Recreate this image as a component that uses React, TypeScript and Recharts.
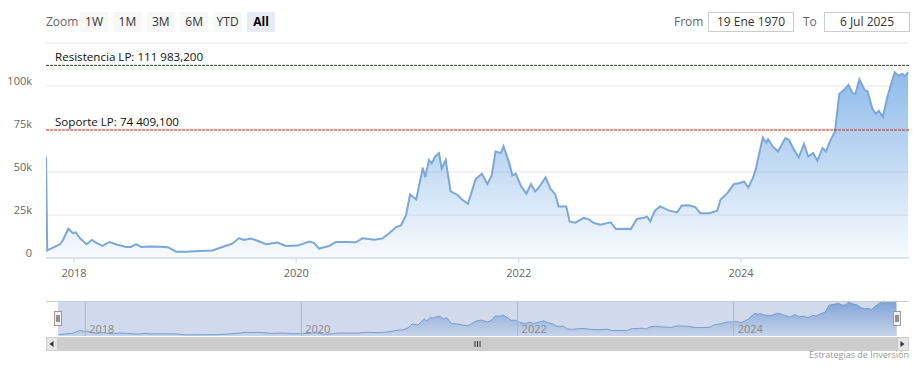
import React from "react";
import { AreaChart, Area, XAxis, YAxis, CartesianGrid, ReferenceLine, ReferenceArea } from "recharts";

const FONT = '"Open Sans", "Noto Sans", sans-serif';

const dates = [
  "2017-10-01", "2017-10-05", "2017-10-24", "2017-11-16", "2017-11-26", "2017-12-13", "2017-12-29",
  "2018-01-06", "2018-01-20", "2018-02-11", "2018-03-01", "2018-03-14", "2018-04-05", "2018-04-27",
  "2018-05-24", "2018-06-21", "2018-07-07", "2018-07-24", "2018-08-10", "2018-09-06", "2018-10-10",
  "2018-11-05", "2018-12-03", "2019-01-05", "2019-02-18", "2019-04-01", "2019-05-03", "2019-06-05",
  "2019-06-27", "2019-07-13", "2019-08-05", "2019-08-27", "2019-09-24", "2019-11-01", "2019-11-28",
  "2020-01-06", "2020-02-13", "2020-02-29", "2020-03-16", "2020-04-18", "2020-05-10", "2020-06-12",
  "2020-07-15", "2020-08-06", "2020-09-14", "2020-10-11", "2020-11-02", "2020-11-24", "2020-12-10",
  "2020-12-27", "2021-01-09", "2021-01-29", "2021-02-20", "2021-02-28", "2021-03-12", "2021-03-21",
  "2021-04-01", "2021-04-14", "2021-04-23", "2021-05-06", "2021-05-22", "2021-06-13", "2021-06-29",
  "2021-07-18", "2021-08-13", "2021-09-02", "2021-09-20", "2021-10-04", "2021-10-17", "2021-11-03",
  "2021-11-12", "2021-12-01", "2021-12-11", "2021-12-22", "2022-01-08", "2022-01-26", "2022-02-10",
  "2022-02-24", "2022-03-08", "2022-03-30", "2022-04-15", "2022-05-01", "2022-05-12", "2022-06-06",
  "2022-06-17", "2022-07-06", "2022-08-03", "2022-08-19", "2022-09-05", "2022-09-27", "2022-10-30",
  "2022-11-16", "2022-12-18", "2023-01-04", "2023-01-24", "2023-02-11", "2023-02-27", "2023-03-09",
  "2023-03-25", "2023-04-11", "2023-05-08", "2023-06-05", "2023-06-21", "2023-07-13", "2023-08-04",
  "2023-08-21", "2023-09-18", "2023-10-15", "2023-10-26", "2023-11-17", "2023-12-09", "2023-12-25",
  "2024-01-11", "2024-01-25", "2024-02-08", "2024-02-19", "2024-02-29", "2024-03-13", "2024-03-24",
  "2024-03-30", "2024-04-15", "2024-05-02", "2024-05-26", "2024-06-07", "2024-06-23", "2024-07-09",
  "2024-07-26", "2024-08-09", "2024-08-25", "2024-09-08", "2024-09-25", "2024-10-06", "2024-10-22",
  "2024-11-05", "2024-11-19", "2024-12-05", "2024-12-19", "2025-01-02", "2025-01-11", "2025-01-24",
  "2025-02-10", "2025-02-20", "2025-03-07", "2025-03-18", "2025-03-29", "2025-04-11", "2025-04-25",
  "2025-05-06", "2025-05-20", "2025-06-01", "2025-06-14", "2025-06-23", "2025-07-03",
];

const prices = [
  58900, 4400, 6000, 8000, 10500, 17000, 14300,
  15000, 11600, 8000, 10500, 9000, 7000, 9300,
  7700, 6400, 6400, 8100, 6400, 6700, 6500,
  6300, 3700, 3700, 4000, 4400, 6400, 8300,
  11600, 10500, 11300, 10000, 8000, 9000, 7000,
  7200, 9500, 8700, 5500, 7000, 9300, 9300,
  9100, 11500, 10600, 11400, 14500, 18000, 19000,
  25000, 37000, 34000, 52500, 47000, 57000, 55000,
  59000, 61000, 52000, 57000, 38700, 36800, 34000,
  31500, 46000, 49000, 43000, 48000, 62000, 61000,
  65000, 55000, 48000, 49000, 42000, 37400, 43000,
  38700, 41000, 46900, 40300, 37000, 30000, 30000,
  21300, 20500, 23300, 22500, 20300, 19400, 20700,
  16800, 17000, 16800, 22700, 23200, 24000, 21300,
  27700, 30000, 27700, 26500, 30500, 30700, 29600,
  26000, 26000, 27500, 34000, 37700, 43000, 43500,
  44500, 41000, 46000, 51800, 60000, 70000, 67000,
  69000, 64700, 62000, 69700, 68600, 63000, 58500,
  66300, 59000, 61000, 56600, 64000, 62000, 68800,
  73600, 95400, 97800, 100700, 95800, 95500, 103900,
  97800, 96800, 87200, 83900, 85600, 81900, 93000,
  99700, 108000, 106000, 107000, 105700, 108000,
];

const rangeStart = "2017-10-01";
const rangeEnd = "2025-07-06";
const yearTicks = ["2018-01-01", "2020-01-01", "2022-01-01", "2024-01-01"];
const priceTicks = [0, 25000, 50000, 75000, 100000, 125000];
const zoomButtons = ["1W", "1M", "3M", "6M", "YTD", "All"];
const fromLabel = "19 Ene 1970";
const toLabel = "6 Jul 2025";
const levelNames = ["Resistencia LP: 111 983,200", "Soporte LP: 74 409,100"];
const levelValues = [111983.2, 74409.1];
const levelColors = ["#2f3f2f", "#c0392b"];

const data = dates.map((d, i) => ({ t: Date.parse(d), price: prices[i] }));
const navData = data.slice(1);
const domainX: [number, number] = [Date.parse(rangeStart), Date.parse(rangeEnd)];
const tickX = yearTicks.map((d) => Date.parse(d));

const YTick = (props: any) => {
  const { x, y, payload } = props;
  if (payload.value === 125000) return <g />;
  const txt = payload.value === 0 ? "0" : payload.value / 1000 + "k";
  return (
    <text x={x} y={y - 1.5} textAnchor="end" fill="#666" fontSize={11} fontFamily={FONT}>
      {txt}
    </text>
  );
};

function MainChart() {
  return (
    <AreaChart width={919} height={290} data={data} margin={{ top: 43, right: 10, left: 6, bottom: 2 }}>
      <defs>
        <linearGradient id="mainFill" x1="0" y1="0" x2="0" y2="1">
          <stop offset="0%" stopColor="#85b5e8" stopOpacity={0.92} />
          <stop offset="100%" stopColor="#85b5e8" stopOpacity={0.06} />
        </linearGradient>
      </defs>
      <CartesianGrid vertical={false} stroke="#e6e6e6" />
      <XAxis
        dataKey="t"
        type="number"
        scale="time"
        domain={domainX}
        ticks={tickX}
        allowDataOverflow
        tickFormatter={(v) => String(new Date(v).getUTCFullYear())}
        height={30}
        tickSize={5}
        tickMargin={6}
        stroke="#ccd6eb"
        tick={{ fill: "#666", fontSize: 11, fontFamily: FONT }}
      />
      <YAxis
        width={40}
        domain={[0, 125000]}
        ticks={priceTicks}
        axisLine={false}
        tickLine={false}
        tickMargin={8}
        tick={<YTick />}
      />
      <Area
        type="linear"
        dataKey="price"
        stroke="#7ca8d9"
        strokeWidth={2}
        fill="url(#mainFill)"
        fillOpacity={1}
        dot={false}
        activeDot={false}
        isAnimationActive={false}
      />
      {levelValues.map((v, i) => (
        <ReferenceLine
          key={i}
          y={v}
          stroke={levelColors[i]}
          strokeDasharray="3 1"
          label={(p: any) => (
            <text x={p.viewBox.x + 9} y={p.viewBox.y - 4} fill="#111" fontSize={11.6} fontFamily={FONT}>
              {levelNames[i]}
            </text>
          )}
        />
      ))}
    </AreaChart>
  );
}

function Navigator() {
  return (
    <AreaChart width={919} height={50} data={navData} margin={{ top: 11, right: 22, left: 58, bottom: 4 }}>
      <defs>
        <linearGradient id="navFill" x1="0" y1="0" x2="0" y2="1">
          <stop offset="0%" stopColor="#7ca8d9" stopOpacity={0.9} />
          <stop offset="100%" stopColor="#7ca8d9" stopOpacity={0.1} />
        </linearGradient>
      </defs>
      <XAxis dataKey="t" type="number" scale="time" domain={domainX} hide allowDataOverflow />
      <YAxis domain={[0, "dataMax"]} hide />
      {tickX.map((t, i) => (
        <ReferenceLine
          key={t}
          x={t}
          stroke="#b4b4b4"
          label={(p: any) => (
            <text x={p.viewBox.x + 4} y={p.viewBox.y + p.viewBox.height - 3} fill="#8a8a8a" fontSize={11} fontFamily={FONT}>
              {yearTicks[i].slice(0, 4)}
            </text>
          )}
        />
      ))}
      <Area
        type="linear"
        dataKey="price"
        stroke="#7ca8d9"
        strokeWidth={1}
        fill="url(#navFill)"
        fillOpacity={1}
        dot={false}
        activeDot={false}
        isAnimationActive={false}
      />
      <ReferenceArea x1={domainX[0]} x2={domainX[1]} fill="#6685c2" fillOpacity={0.3} stroke="none" />
    </AreaChart>
  );
}

function Chrome() {
  return (
    <svg width={919} height={368} style={{ position: "absolute", left: 0, top: 0, pointerEvents: "none" }}>
      <g fontFamily={FONT} fontSize={12}>
        <text x={46} y={26} fill="#666">Zoom</text>
        {zoomButtons.map((b, i) => {
          const sel = b === "All";
          const bx = 80 + i * 33.4;
          return (
            <g key={b}>
              <rect x={bx} y={12} width={28} height={20} fill={sel ? "#e6ebf5" : "#f7f7f7"} />
              <text x={bx + 14} y={26} textAnchor="middle" fill={sel ? "#000" : "#333"} fontWeight={sel ? 700 : 400}>
                {b}
              </text>
            </g>
          );
        })}
        <text x={674} y={26} fill="#666">From</text>
        <rect x={708.5} y={12.5} width={85} height={19} fill="#fff" stroke="#cccccc" />
        <text x={751} y={26} textAnchor="middle" fill="#333">{fromLabel}</text>
        <text x={803} y={26} fill="#666">To</text>
        <rect x={824.5} y={12.5} width={85} height={19} fill="#fff" stroke="#cccccc" />
        <text x={867} y={26} textAnchor="middle" fill="#333">{toLabel}</text>
      </g>
      {/* navigator outline */}
      <line x1={46} x2={909} y1={301.5} y2={301.5} stroke="#cccccc" />
      {/* handles */}
      {[58, 897].map((hx) => (
        <g key={hx}>
          <rect x={hx - 3.5} y={311.5} width={7} height={14} fill="#f2f2f2" stroke="#999" />
          <line x1={hx - 1} x2={hx - 1} y1={315} y2={322} stroke="#333" />
          <line x1={hx + 1} x2={hx + 1} y1={315} y2={322} stroke="#333" />
        </g>
      ))}
      {/* scrollbar */}
      <rect x={46} y={337} width={863} height={14} fill="#f2f2f2" />
      <rect x={58} y={337} width={839} height={14} fill="#cccccc" />
      <rect x={46.5} y={337.5} width={11} height={13} fill="#e6e6e6" stroke="#cccccc" />
      <rect x={897.5} y={337.5} width={11} height={13} fill="#e6e6e6" stroke="#cccccc" />
      <path d="M53.5 341 L49.5 344 L53.5 347 Z" fill="#333" />
      <path d="M900.5 341 L904.5 344 L900.5 347 Z" fill="#333" />
      {[475, 477.5, 480].map((gx) => (
        <line key={gx} x1={gx} x2={gx} y1={341} y2={347} stroke="#333" />
      ))}
      <text x={909} y={358} textAnchor="end" fill="#999" fontSize={9} fontFamily={FONT}>
        Estrategias de Inversión
      </text>
    </svg>
  );
}

export default function App() {
  return (
    <div style={{ position: "absolute", left: 0, top: 0, width: 919, height: 368, background: "#fff" }}>
      <div style={{ position: "absolute", left: 0, top: 0 }}>
        <MainChart />
      </div>
      <div style={{ position: "absolute", left: 0, top: 290 }}>
        <Navigator />
      </div>
      <Chrome />
    </div>
  );
}
